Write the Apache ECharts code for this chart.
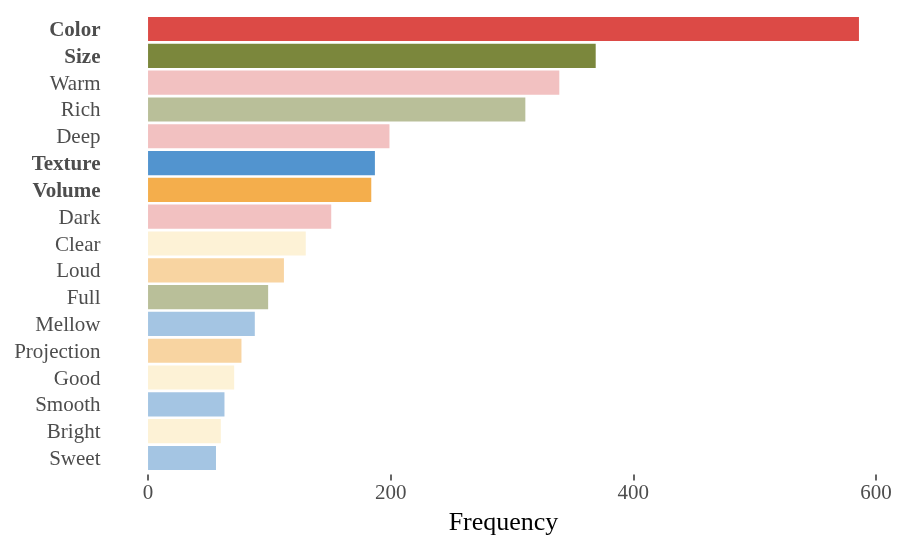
<!DOCTYPE html>
<html>
<head>
<meta charset="utf-8">
<script src="https://cdn.jsdelivr.net/npm/echarts@6/dist/echarts.min.js"></script>
<style>html,body{margin:0;padding:0;background:#fff}#c{width:908px;height:549px}</style>
</head>
<body>
<div id="c"></div>
<script>
const categories = ["Color","Size","Warm","Rich","Deep","Texture","Volume","Dark","Clear","Loud","Full","Mellow","Projection","Good","Smooth","Bright","Sweet"];
const frequencies = [586,369,339,311,199,187,184,151,130,112,99,88,77,71,63,60,56];
const barColors = ["#DC4A46","#7B873C","#F2C1C1","#B9BF99","#F2C1C1","#5294CF","#F4AE4C","#F2C1C1","#FDF2D6","#F8D4A1","#B9BF99","#A4C5E3","#F8D4A1","#FDF2D6","#A4C5E3","#FDF2D6","#A4C5E3"];
const boldCategories = ["Color","Size","Texture","Volume"];
const xTicks = [0,200,400,600];
const xMin = -29.3, xMax = 615.3;

const chart = echarts.init(document.getElementById('c'));
chart.setOption({
  animation: false,
  backgroundColor: '#ffffff',
  grid: {left: 112.5, right: 13.5, top: 15.6, bottom: 77.6, containLabel: false, outerBoundsMode: 'none'},
  xAxis: {
    type: 'value', min: xMin, max: xMax,
    offset: 3,
    splitLine: {show: false},
    axisLine: {show: false},
    axisTick: {show: true, length: 6, customValues: xTicks, lineStyle: {color: '#333333', width: 1.5}},
    axisLabel: {customValues: xTicks, margin: 9, fontFamily: 'Liberation Serif', fontSize: 21, color: '#4D4D4D'},
    name: 'Frequency', nameLocation: 'middle', nameGap: 36,
    nameTextStyle: {fontFamily: 'Liberation Serif', fontSize: 26, color: '#000000'}
  },
  yAxis: {
    type: 'category', data: categories, inverse: true,
    axisLine: {show: false}, axisTick: {show: false}, splitLine: {show: false},
    axisLabel: {
      interval: 0, hideOverlap: false,
      margin: 12, fontFamily: 'Liberation Serif', fontSize: 21, lineHeight: 22, color: '#4D4D4D',
      padding: [3, 0, 0, 0],
      formatter: v => boldCategories.includes(v) ? '{b|' + v + '}' : v,
      rich: {b: {fontFamily: 'Liberation Serif', fontSize: 21, lineHeight: 22, fontWeight: 'bold', color: '#4D4D4D'}}
    }
  },
  series: [{
    type: 'bar',
    data: frequencies.map((v, i) => ({value: v, itemStyle: {color: barColors[i]}})),
    barCategoryGap: '10%'
  }]
});
</script>
</body>
</html>
